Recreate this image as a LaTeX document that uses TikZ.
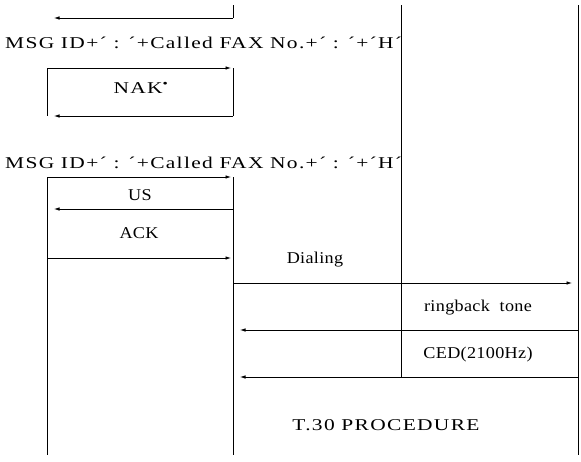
\documentclass[tikz,border=0pt]{standalone}
\usepackage{fontspec}
\setmainfont{Liberation Serif}[FakeStretch=1.1,LetterSpace=2]
\newfontfamily\widefont{Liberation Serif}[FakeStretch=1.3,LetterSpace=8]
\usetikzlibrary{arrows.meta}

\begin{document}
\begin{tikzpicture}[x=1pt,y=-1pt,
  line/.style={line width=0.7pt},
  msg/.style={line width=0.7pt,-{Latex[length=5.5pt,width=3.5pt]}},
  lbl/.style={inner sep=0pt,font=\fontsize{16.5}{18}\selectfont},
  widelbl/.style={lbl,font=\fontsize{16.5}{18}\widefont}]
\useasboundingbox (0,0) rectangle (581,461);
% lifelines and arrow ends
\coordinate (A) at (47,5);
\coordinate (B) at (233,5);
\coordinate (C) at (401,5);
\coordinate (D) at (578,5);
\coordinate (Ae) at (54,0);
\coordinate (Be) at (231,0);
\coordinate (Bw) at (240,0);
\coordinate (De) at (572,0);
% message rows
\coordinate (r1) at (0,18);
\coordinate (r2) at (0,68);
\coordinate (r3) at (0,116);
\coordinate (r4) at (0,177);
\coordinate (r5) at (0,209);
\coordinate (r6) at (0,258);
\coordinate (r7) at (0,283);
\coordinate (r8) at (0,330);
\coordinate (r9) at (0,377);
\coordinate (bot) at (0,455);

\draw[line] (B) -- (B |- r1);
\draw[line] (A |- r2) -- (A |- r3);
\draw[line] (B |- r2) -- (B |- r3);
\draw[line] (A |- r4) -- (A |- bot);
\draw[line] (B |- r4) -- (B |- bot);
\draw[line] (C) -- (C |- r9);
\draw[line] (D) -- (D |- bot);

\draw[msg] (B |- r1) -- (Ae |- r1);
\draw[msg] (A |- r2) -- (Be |- r2);
\draw[msg] (B |- r3) -- (Ae |- r3);
\draw[msg] (A |- r4) -- (Be |- r4);
\draw[msg] (B |- r5) -- (Ae |- r5);
\draw[msg] (A |- r6) -- (Be |- r6);
\draw[msg] (B |- r7) -- (De |- r7);
\draw[msg] (D |- r8) -- (Bw |- r8);
\draw[msg] (D |- r9) -- (Bw |- r9);

\node[widelbl, anchor=west] (msg1) at (5,43) {MSG ID+´ : ´+Called FAX No.+´ : ´+´H´};
\node[widelbl] (nak) at (141,88) {NAK\textsuperscript{•}};
\node[widelbl, anchor=west] (msg2) at (5,163) {MSG ID+´ : ´+Called FAX No.+´ : ´+´H´};
\node[lbl] (us) at (140,195) {US};
\node[lbl] (ack) at (139,233) {ACK};
\node[lbl] (dial) at (315,260) {Dialing};
\node[lbl] (ring) at (478,308) {ringback\ \ tone};
\node[lbl] (ced) at (478,355) {CED(2100Hz)};
\node[widelbl] (t30) at (386,425) {T.30 PROCEDURE};
\end{tikzpicture}
\end{document}
